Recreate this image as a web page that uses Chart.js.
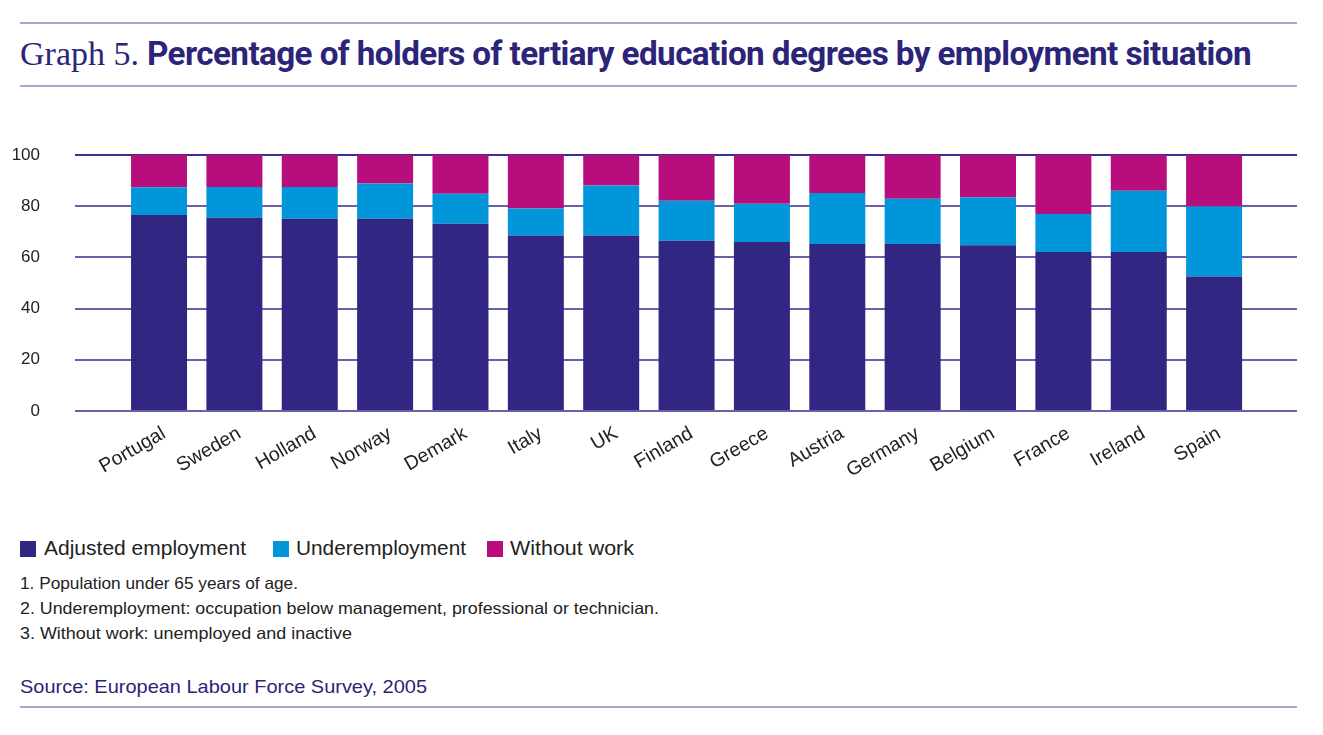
<!DOCTYPE html>
<html>
<head>
<meta charset="utf-8">
<script src="https://cdn.jsdelivr.net/npm/chart.js@4"></script>
<style>
  html, body { margin: 0; padding: 0; background: #fff; }
  body { width: 1323px; height: 735px; position: relative; overflow: hidden; font-family: "Liberation Sans", Arial, sans-serif; }
  .rule { position: absolute; left: 20px; width: 1277px; height: 2px; background: #aaa4d0; }
  .abs { position: absolute; white-space: nowrap; transform-origin: 0 50%; }
  #title { left: 20px; top: 34px; color: #2b2478; }
  #title .g { font-family: "Liberation Serif", "Times New Roman", serif; font-size: 34px; }
  #title .b { font-family: Roboto, "Liberation Sans", sans-serif; font-weight: 700; font-size: 33px; letter-spacing: -0.6px; display: inline-block; transform-origin: 0 50%; }
  #chartBox { position: absolute; left: 0; top: 100px; width: 1323px; height: 400px; }
  .sw { position: absolute; width: 16px; height: 16px; top: 541px; }
  .lg { font-size: 20px; color: #222; top: 537px; }
  .fn { font-size: 16.5px; color: #222; }
  #src { font-size: 19px; color: #2b2478; left: 20px; top: 676px; }
</style>
</head>
<body>
<div class="rule" style="top:22px"></div>
<div class="rule" style="top:85px"></div>
<div id="title" class="abs"><span class="g">Graph 5. </span><span class="b" id="tb">Percentage of holders of tertiary education degrees by employment situation</span></div>

<div id="chartBox"><canvas id="c"></canvas></div>

<div class="sw" style="left:20px;background:#312782"></div>
<div class="abs lg" data-w="202" style="left:44px">Adjusted employment</div>
<div class="sw" style="left:273px;background:#0096d9"></div>
<div class="abs lg" data-w="170" style="left:296px">Underemployment</div>
<div class="sw" style="left:487px;background:#b80e7d"></div>
<div class="abs lg" data-w="124" style="left:510px">Without work</div>

<div class="abs fn" data-w="278" style="left:20px;top:574px">1. Population under 65 years of age.</div>
<div class="abs fn" data-w="639" style="left:20px;top:599px">2. Underemployment: occupation below management, professional or technician.</div>
<div class="abs fn" data-w="332" style="left:20px;top:624px">3. Without work: unemployed and inactive</div>
<div id="src" class="abs" data-w="407">Source: European Labour Force Survey, 2005</div>
<div class="rule" style="top:706px"></div>

<script>
const categories = ["Portugal","Sweden","Holland","Norway","Demark","Italy","UK","Finland","Greece","Austria","Germany","Belgium","France","Ireland","Spain"];
const adjustedEmployment = [76.6, 75.5, 75.1, 75.1, 73.1, 68.6, 68.6, 66.5, 66.0, 65.2, 65.2, 64.7, 62.1, 62.1, 52.5];
const underemployment    = [10.8, 12.0, 12.4, 13.8, 11.8, 10.5, 19.5, 15.6, 15.0, 20.0, 17.7, 18.7, 14.9, 23.9, 27.4];
const withoutWork        = [12.6, 12.5, 12.5, 11.1, 15.1, 20.9, 11.9, 17.9, 19.0, 14.8, 17.1, 16.6, 23.0, 14.0, 20.1];
const yTicks = [0, 20, 40, 60, 80, 100];

// fit text widths
document.querySelectorAll('[data-w]').forEach(el => {
  const w = el.getBoundingClientRect().width;
  el.style.transform = 'scaleX(' + (parseFloat(el.dataset.w) / w) + ')';
});
(function(){
  const tb = document.getElementById('tb');
  const w = tb.getBoundingClientRect().width;
  tb.style.transform = 'scaleX(' + (1104 / w) + ')';
})();

const pts = arr => arr.map((v, i) => ({ x: i, y: v }));

new Chart(document.getElementById('c'), {
  type: 'bar',
  data: {
    datasets: [
      { label: 'Adjusted employment', data: pts(adjustedEmployment), backgroundColor: '#312782' },
      { label: 'Underemployment', data: pts(underemployment), backgroundColor: '#0096d9' },
      { label: 'Without work', data: pts(withoutWork), backgroundColor: '#b80e7d' }
    ]
  },
  options: {
    responsive: true,
    maintainAspectRatio: false,
    animation: false,
    layout: { padding: { top: 55, left: 0, right: 26, bottom: 9 } },
    plugins: { legend: { display: false }, tooltip: { enabled: false } },
    datasets: { bar: { categoryPercentage: 1.0, barPercentage: 0.743 } },
    scales: {
      x: {
        type: 'linear',
        stacked: true,
        offset: false,
        min: -1.115,
        max: 15.1,
        grid: { display: false, drawTicks: false, offset: false },
        border: { display: false },
        afterBuildTicks: s => { s.ticks = categories.map((_, i) => ({ value: i })); },
        afterFit: s => { s.height = 80; },
        ticks: {
          autoSkip: false,
          minRotation: 30,
          maxRotation: 30,
          padding: 11,
          labelOffset: 5,
          color: '#222',
          font: { family: '"Liberation Sans", Arial, sans-serif', size: 19.5 },
          callback: v => categories[v]
        }
      },
      y: {
        stacked: true,
        min: 0,
        max: 100,
        afterFit: s => { s.width = 75; },
        afterBuildTicks: s => { s.ticks = yTicks.map(v => ({ value: v })); },
        grid: {
          drawTicks: false,
          lineWidth: 2,
          color: c => (c.tick && c.tick.value === 100) ? '#3b3090' : '#6a60a8'
        },
        border: { display: false },
        ticks: {
          padding: 35,
          color: '#222',
          font: { family: '"Liberation Sans", Arial, sans-serif', size: 17 }
        }
      }
    }
  }
});
</script>
</body>
</html>
